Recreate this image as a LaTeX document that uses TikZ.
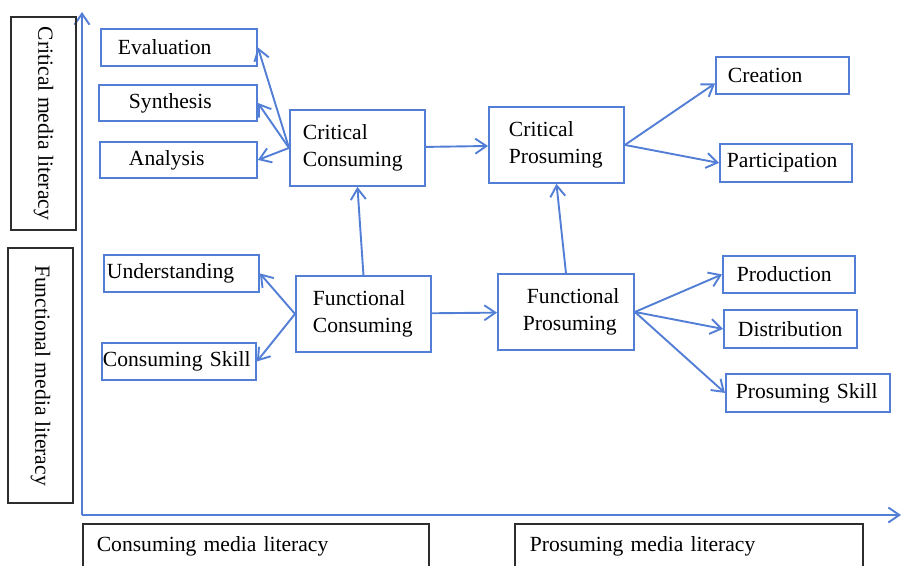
\documentclass[tikz,border=0pt]{standalone}
\usepackage{fontspec}
\setmainfont{Liberation Serif}
\usepackage{tikz}
\usetikzlibrary{arrows.meta,positioning}
\definecolor{litblue}{RGB}{82,126,214}
\definecolor{litframe}{RGB}{45,45,45}
\hyphenpenalty=10000

\begin{document}
\begin{tikzpicture}[
        x=0.5pt, y=-0.5pt,
        every node/.style={font=\fontsize{10.8}{13.5}\selectfont},
        box/.style={rectangle, draw=litblue, line width=0.95pt, anchor=north west, align=left, inner ysep=0pt},
        leaf/.style={box, minimum height=18.5pt},
        stage/.style={box, minimum height=38pt},
        axisbox/.style={rectangle, draw=litframe, thick, minimum height=32.5pt, rotate=-90},
        levelbox/.style={rectangle, draw=litframe, thick, anchor=north west, align=left, minimum height=23pt, inner ysep=0pt},
        arrow/.style={-{Straight Barb[length=5.5pt, width=7.5pt]}, line width=0.95pt, litblue}
    ]
        \useasboundingbox (0,0) rectangle (903,566);
        \clip (0,0) rectangle (903,566);

        % Critical level
        \node[leaf, inner xsep=8.5pt, text width=61pt] (eval) at (100,28) {Evaluation};
        \node[leaf, minimum height=18pt, inner xsep=15pt, text width=49pt] (synth) at (98,84) {Synthesis};
        \node[leaf, minimum height=18pt, inner xsep=14.5pt, text width=49.5pt] (analysis) at (99,141) {Analysis};
        \node[stage, inner xsep=6.5pt, text width=54.5pt] (critcons) at (289,109) {Critical\\Consuming};
        \node[stage, inner xsep=10pt, text width=47.5pt] (critpros) at (488,106) {Critical\\Prosuming};
        \node[leaf, inner xsep=6pt, text width=54.5pt] (creation) at (715,56) {Creation};
        \node[leaf, minimum height=19pt, inner xsep=3.5pt, text width=59pt] (particip) at (719,143) {Participation};

        % Functional level
        \node[leaf, inner xsep=1.5pt, text width=74.5pt] (underst) at (103,254) {Understanding};
        \node[leaf, inner xsep=0.5pt, text width=76pt] (consskill) at (101,342) {Consuming Skill};
        \node[stage, inner xsep=8.5pt, text width=50.5pt] (funccons) at (295,275) {Functional\\Consuming};
        \node[stage, inner xsep=7pt, text width=54pt] (funcpros) at (497,273) {\hspace*{7.5pt}Functional\\\hspace*{5.5pt}Prosuming};
        \node[leaf, inner xsep=7pt, text width=52pt] (product) at (722,255) {Production};
        \node[leaf, minimum height=19pt, inner xsep=7pt, text width=52.5pt] (distrib) at (723,309) {Distribution};
        \node[leaf, minimum height=19pt, inner xsep=5pt, text width=72pt] (prosskill) at (725,373) {Prosuming Skill};

        % Axes and their labels
        \coordinate (origin) at (82,515);
        \coordinate (ytop) at (82,12);
        \coordinate (xend) at (901,515);
        \draw[arrow] (origin) -- (ytop);
        \draw[arrow] (origin) -- (xend);

        \node[axisbox, minimum width=106.5pt] (critlit) at (43.5,123.5) {Critical media literacy};
        \node[axisbox, minimum width=127.5pt] (funclit) at (40.5,375.5) {Functional media literacy};
        \node[levelbox, inner xsep=7pt, text width=159pt] (conslit) at (82,523) {Consuming media literacy};
        \node[levelbox, inner xsep=7.5pt, text width=159pt] (proslit) at (514,523) {Prosuming media literacy};

        \draw[arrow] (critcons.west) -- (eval.east);
        \draw[arrow] (critcons.west) -- (synth.east);
        \draw[arrow] (critcons.west) -- (analysis.east);
        \draw[arrow] (critcons) -- (critpros);
        \draw[arrow] (critpros.east) -- ([yshift=-4pt]creation.west);
        \draw[arrow] (critpros.east) -- (particip.west);

        \draw[arrow] (funccons.west) -- (underst.east);
        \draw[arrow] (funccons.west) -- (consskill.east);
        \draw[arrow] (funccons) -- (funcpros);
        \draw[arrow] (funcpros.east) -- (product.west);
        \draw[arrow] (funcpros.east) -- (distrib.west);
        \draw[arrow] (funcpros.east) -- (prosskill.west);

        \draw[arrow] (funccons.north) -- (critcons.south);
        \draw[arrow] (funcpros.north) -- (critpros.south);
    \end{tikzpicture}
\end{document}
